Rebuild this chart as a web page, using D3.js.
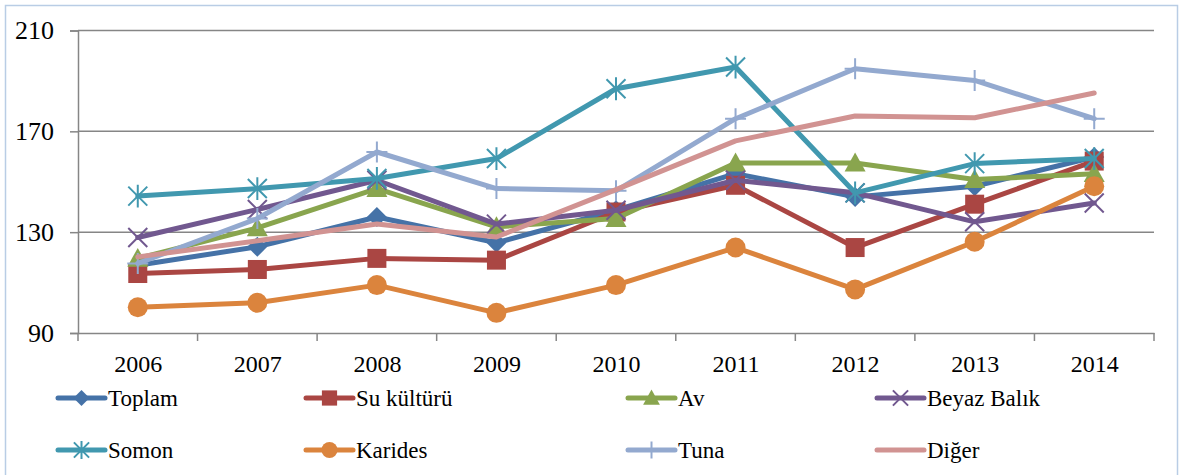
<!DOCTYPE html>
<html>
<head>
<meta charset="utf-8">
<script src="https://cdn.jsdelivr.net/npm/d3@7"></script>
<style>
html,body{margin:0;padding:0;background:#fff;}
svg{display:block;}
svg text{font-family:"Liberation Serif","Times New Roman",serif !important;}
</style>
</head>
<body>
<svg id="chart" width="1179" height="475"></svg>
<script>
const years = ["2006","2007","2008","2009","2010","2011","2012","2013","2014"];
const yTicks = [90,130,170,210];
const toplam    = [116.9,124.2,136.0,125.8,138.7,153.2,144.0,148.2,159.8];
const suKulturu = [113.6,115.2,119.6,118.9,138.0,148.6,123.9,141.1,158.2];
const av        = [119.6,131.7,147.3,132.1,135.4,157.4,157.4,150.9,153.2];
const beyazBalik= [127.9,139.0,150.6,133.2,138.7,150.6,145.6,134.1,141.6];
const somon     = [144.3,147.3,151.3,159.2,186.9,195.5,145.6,157.2,159.2];
const karides   = [100.2,102.0,109.0, 98.0,109.0,123.9,107.3,126.2,148.2];
const tuna      = [117.6,135.4,161.8,147.3,146.4,175.0,194.8,190.2,175.0];
const diger     = [120.2,126.6,133.2,128.1,146.9,166.2,176.1,175.4,185.2];

const seriesNames = ["Toplam","Su kültürü","Av","Beyaz Balık","Somon","Karides","Tuna","Diğer"];
const seriesValues = [toplam,suKulturu,av,beyazBalik,somon,karides,tuna,diger];
const seriesColors = ["#4572A7","#AA4643","#89A54E","#71588F","#4198AF","#DB843D","#93A9CF","#D19392"];
const seriesMarkers = ["diamond","square","triangle","x","star","circle","plus","none"];

const FONT = "'Liberation Serif','Times New Roman',serif";
const svg = d3.select("#chart");
const L = 78, R = 1154, T = 30.5, B = 333;

svg.append("rect").attr("x",5.5).attr("y",5.5).attr("width",1172).attr("height",480)
  .attr("fill","none").attr("stroke","#B9CDE5").attr("stroke-width",1.5);

const y = d3.scaleLinear().domain([90,210]).range([B,T]);
const xb = d3.scaleBand().domain(years).range([L,R]);
const x = d3.scalePoint().domain(years).range([L,R]).padding(0.5);

const axisColor = "#868686";
svg.append("g").selectAll("line").data(yTicks.filter(v=>v>90)).join("line")
  .attr("x1",L).attr("x2",R).attr("y1",d=>y(d)).attr("y2",d=>y(d))
  .attr("stroke",axisColor).attr("stroke-width",1.5);

const yAxis = svg.append("g").attr("transform",`translate(${L},0)`)
  .call(d3.axisLeft(y).tickValues(yTicks).tickSize(8).tickPadding(16));
yAxis.attr("font-family",null).attr("font-size",null);
yAxis.select(".domain").attr("stroke",axisColor).attr("stroke-width",1.5);
yAxis.selectAll(".tick line").attr("stroke",axisColor).attr("stroke-width",1.5);
yAxis.selectAll(".tick text").style("font-size","26px").style("font-family",FONT).attr("fill","#000");

const xAxis = svg.append("g").attr("transform",`translate(0,${B})`)
  .call(d3.axisBottom(x).tickSize(0).tickPadding(22));
xAxis.attr("font-family",null).attr("font-size",null);
xAxis.select(".domain").attr("stroke",axisColor).attr("stroke-width",1.5);
xAxis.selectAll(".tick text").style("font-size","24px").style("font-family",FONT).attr("fill","#000");
const bounds = years.map(d=>xb(d)).concat([xb(years[years.length-1])+xb.bandwidth()]);
svg.append("g").selectAll("line").data(bounds).join("line")
  .attr("x1",d=>d).attr("x2",d=>d).attr("y1",B).attr("y2",B+8)
  .attr("stroke",axisColor).attr("stroke-width",1.5);

function drawMarker(g, type, color, cx, cy, scale){
  const s = scale || 1;
  if(type==="diamond"){
    const r = 10*s;
    g.append("path").attr("d",`M${cx},${cy-r}L${cx+r},${cy}L${cx},${cy+r}L${cx-r},${cy}Z`).attr("fill",color);
  } else if(type==="square"){
    const h = 9.5*s;
    g.append("rect").attr("x",cx-h).attr("y",cy-h).attr("width",2*h).attr("height",2*h).attr("fill",color);
  } else if(type==="triangle"){
    const h = 10.5*s;
    g.append("path").attr("d",`M${cx},${cy-h}L${cx+h},${cy+h*0.8}L${cx-h},${cy+h*0.8}Z`).attr("fill",color);
  } else if(type==="circle"){
    g.append("circle").attr("cx",cx).attr("cy",cy).attr("r",10*s).attr("fill",color);
  } else if(type==="x"){
    const h = 9.5*s;
    g.append("path").attr("d",`M${cx-h},${cy-h}L${cx+h},${cy+h}M${cx-h},${cy+h}L${cx+h},${cy-h}`)
      .attr("stroke",color).attr("stroke-width",2).attr("fill","none");
  } else if(type==="star"){
    const h = 9.5*s;
    g.append("path").attr("d",`M${cx-h},${cy-h}L${cx+h},${cy+h}M${cx-h},${cy+h}L${cx+h},${cy-h}M${cx},${cy-h*1.2}L${cx},${cy+h*1.2}`)
      .attr("stroke",color).attr("stroke-width",2).attr("fill","none");
  } else if(type==="plus"){
    const h = 10.5*s;
    g.append("path").attr("d",`M${cx-h},${cy}L${cx+h},${cy}M${cx},${cy-h}L${cx},${cy+h}`)
      .attr("stroke",color).attr("stroke-width",2).attr("fill","none");
  }
}

const line = d3.line().x((d,i)=>x(years[i])).y(d=>y(d));
seriesValues.forEach((vals,si)=>{
  const g = svg.append("g");
  g.append("path").datum(vals).attr("d",line).attr("fill","none")
    .attr("stroke",seriesColors[si]).attr("stroke-width",5).attr("stroke-linejoin","round").attr("stroke-linecap","round");
  vals.forEach((v,i)=>drawMarker(g, seriesMarkers[si], seriesColors[si], x(years[i]), y(v), 1));
});

const legCols = [58,306,628,877];
const legRows = [398,450];
const leg = svg.append("g");
seriesNames.forEach((name,i)=>{
  const cx0 = legCols[i%4], cy0 = legRows[Math.floor(i/4)];
  const g = leg.append("g");
  g.append("line").attr("x1",cx0).attr("x2",cx0+47).attr("y1",cy0).attr("y2",cy0)
    .attr("stroke",seriesColors[i]).attr("stroke-width",5).attr("stroke-linecap","round");
  drawMarker(g, seriesMarkers[i], seriesColors[i], cx0+23.5, cy0, 0.8);
  g.append("text").attr("x",cx0+50).attr("y",cy0+8).style("font-size","23px").style("font-family",FONT)
    .attr("fill","#000").text(name);
});
</script>
</body>
</html>
